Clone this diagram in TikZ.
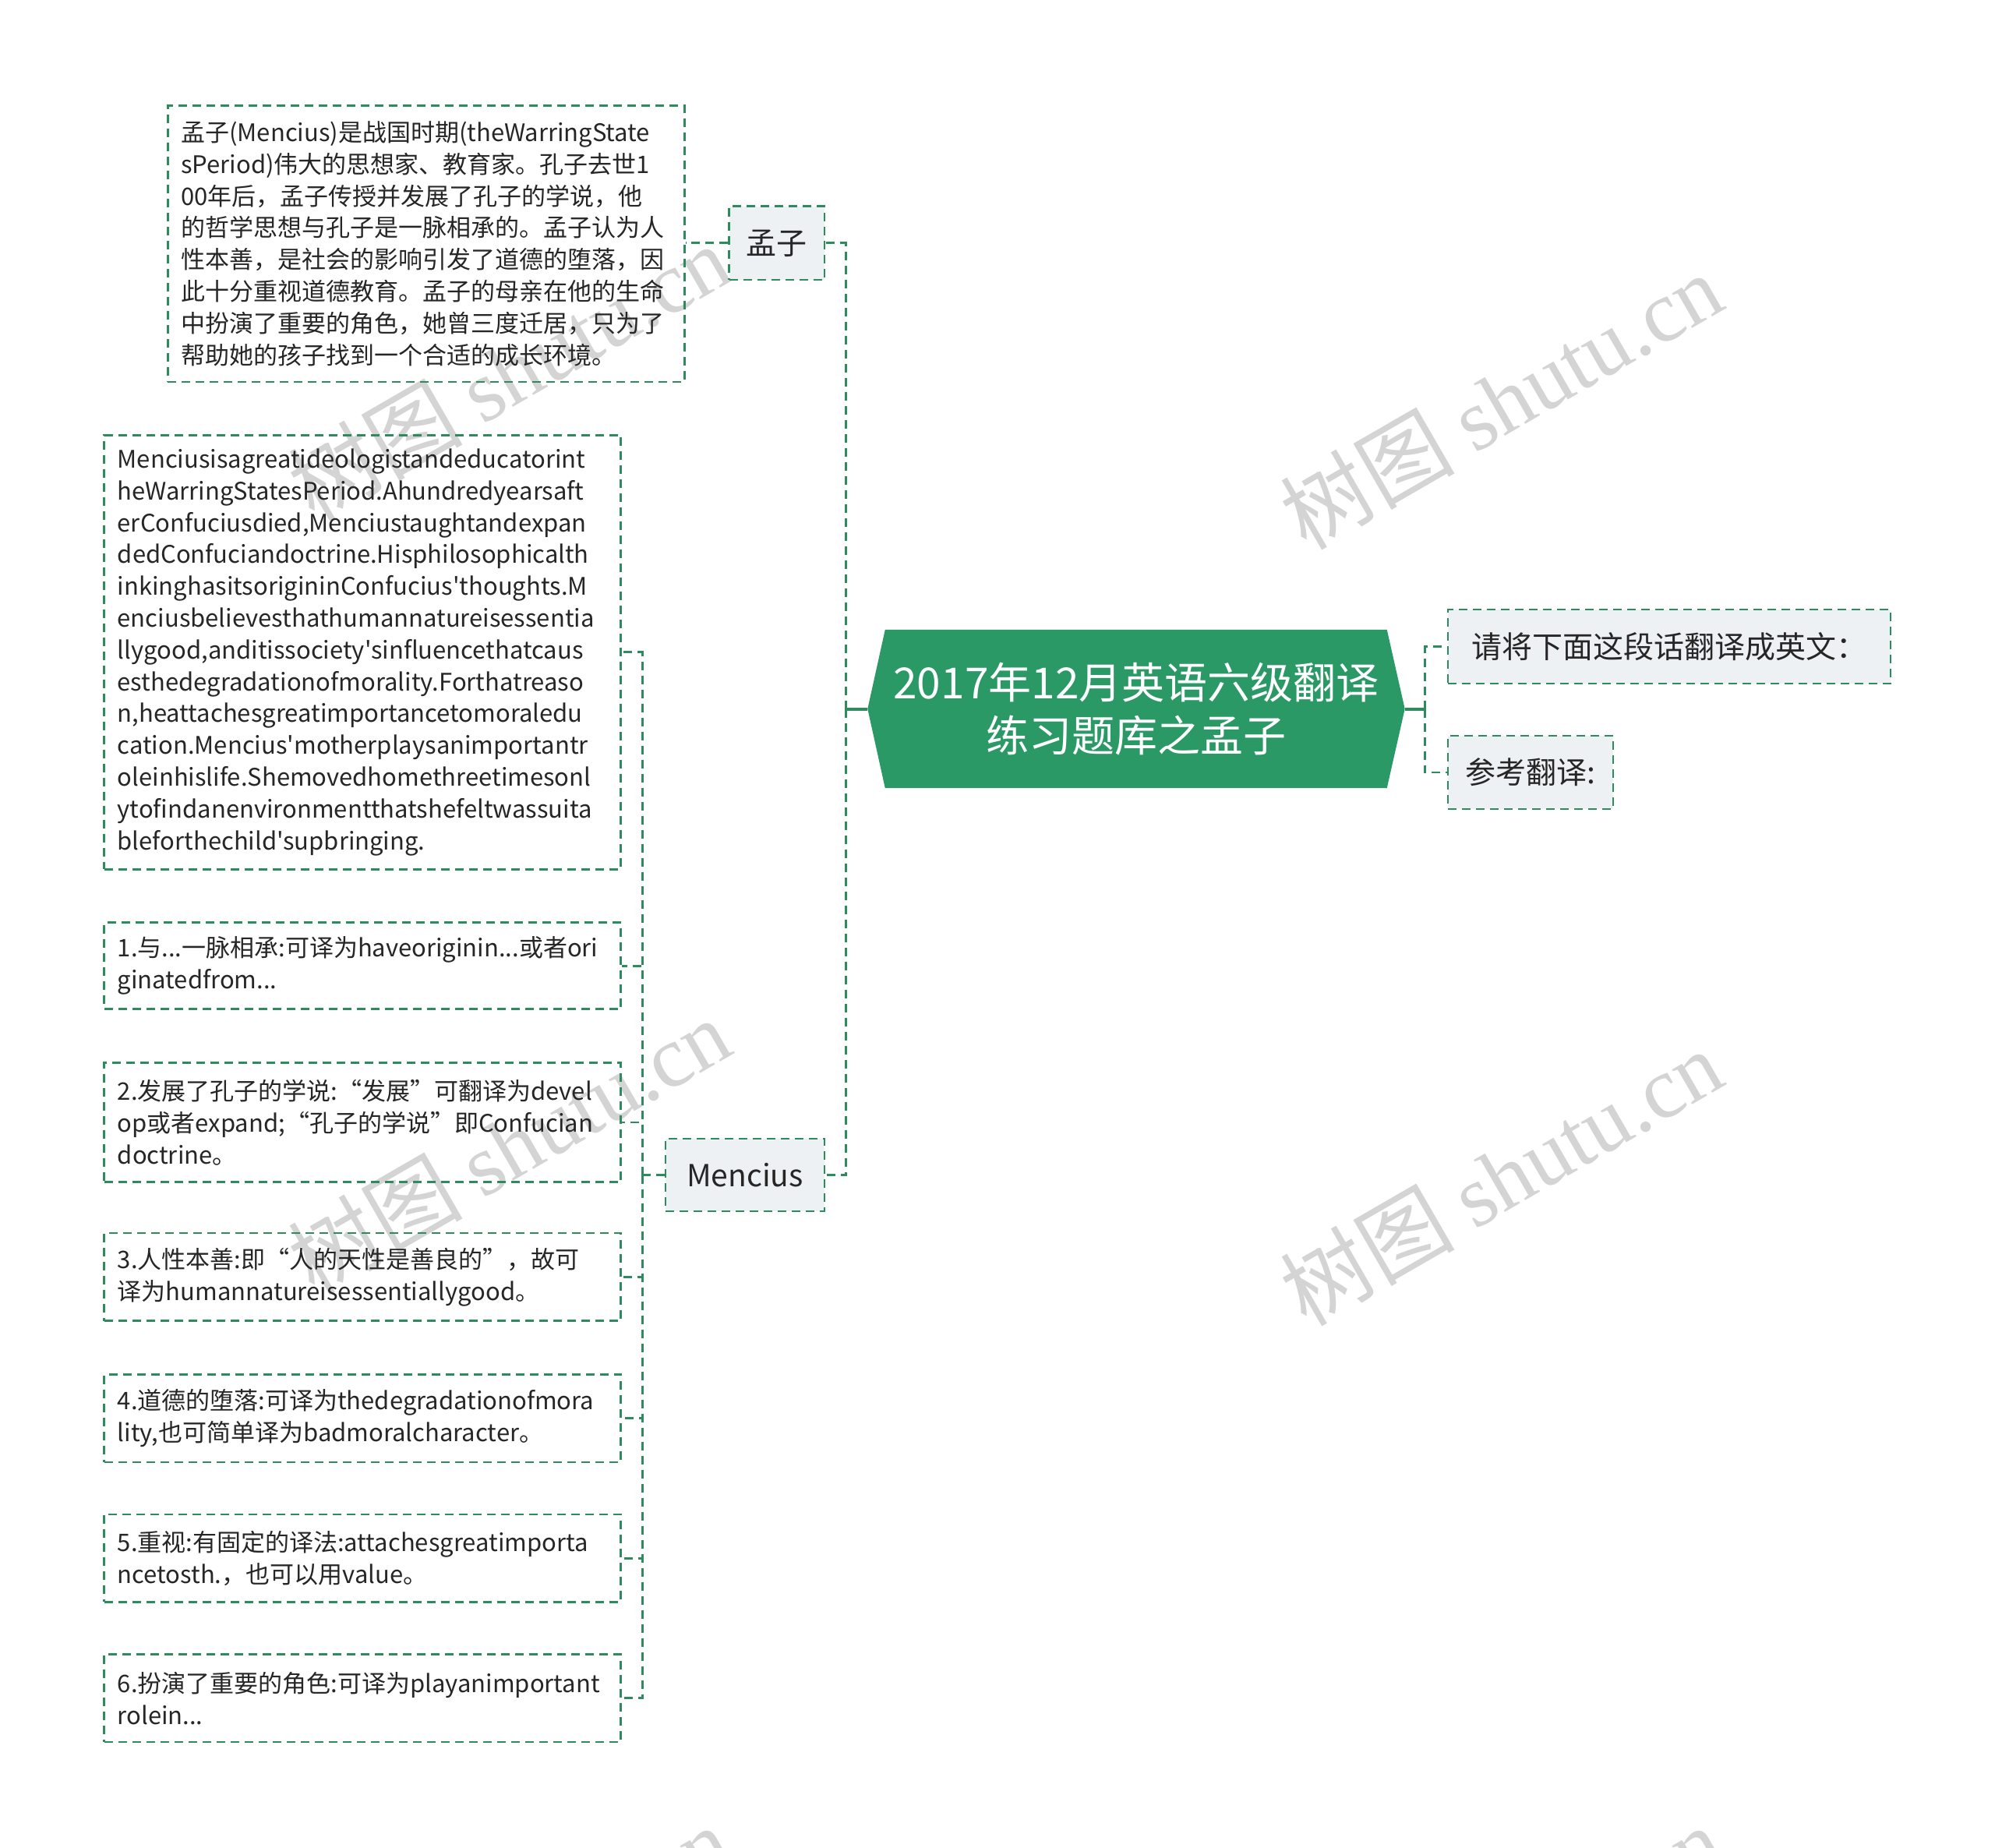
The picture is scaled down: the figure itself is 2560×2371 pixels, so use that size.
\documentclass[tikz,border=0pt]{standalone}
\usepackage{fontspec}
\setmainfont{Noto Sans CJK SC}[Ligatures=TeXOff]
\newfontfamily\wmlatin{Liberation Serif}
\definecolor{lnk}{HTML}{2E8B5E}
\definecolor{ctr}{HTML}{2A9966}
\definecolor{pale}{HTML}{EEF1F4}
\definecolor{wmgray}{HTML}{D4D4D4}
\tikzset{
  dsh/.style={dash pattern=on 11pt off 7pt},
  conn/.style={draw=lnk, line width=2.8pt, dsh},
  stub/.style={draw=lnk, line width=4pt},
  leaf/.style={draw=lnk, line width=2.8pt, dsh, minimum width=663pt,
    text width=629pt, inner xsep=17pt, inner ysep=0pt, align=left,
    font=\fontsize{31}{40.8}\selectfont, text=black!85},
  tagbox/.style={draw=lnk, line width=2.8pt, dsh, fill=pale, inner sep=0pt,
    font=\fontsize{39}{46}\selectfont, text=black!85},
  roottext/.style={text=white, align=center, inner sep=0pt,
    font=\fontsize{55}{68.6}\selectfont},
  wm/.style={text=wmgray, inner sep=0pt, font=\fontsize{112}{120}\selectfont}
}
\begin{document}
\begin{tikzpicture}[x=1pt,y=-1pt]
\useasboundingbox (0,0) rectangle (2560,2371);
\fill[white] (0,0) rectangle (2560,2371);
% watermarks
\node[wm, rotate=30] (wm1) at (1926,514) {树图 {\wmlatin shutu.cn}};
\node[wm, rotate=30] (wm2) at (1926,1510) {树图 {\wmlatin shutu.cn}};
\node[wm, rotate=30] (wm3) at (653,477) {树图 {\wmlatin shutu.cn}};
\node[wm, rotate=30] (wm4) at (653,1470) {树图 {\wmlatin shutu.cn}};
\node[wm, rotate=30] (wm5) at (653,2506) {树图 {\wmlatin shutu.cn}};
\node[wm, rotate=30] (wm6) at (1926,2506) {树图 {\wmlatin shutu.cn}};

% root
\node[minimum width=689pt, minimum height=203pt, inner sep=0pt] (root) at (1458,909.5) {};
\fill[ctr] (root.west) -- ([xshift=22.5pt]root.north west) -- ([xshift=-23pt]root.north east)
  -- (root.east) -- ([xshift=-23pt]root.south east) -- ([xshift=22.5pt]root.south west) -- cycle;
\node[roottext] (roottxt) at (root.center) {2017年12月英语六级翻译\\练习题库之孟子};

% right side
\node[tagbox, minimum width=568pt, minimum height=95pt] (q) at (2142,829.5) {请将下面这段话翻译成英文：};
\node[tagbox, minimum width=212pt, minimum height=94pt] (ref) at (1964,991) {参考翻译:};

% left main children
\node[tagbox, minimum width=122.5pt, minimum height=94.5pt] (mz) at (996.8,311.8) {孟子};
\node[tagbox, minimum width=204pt, minimum height=93pt] (mc) at (956,1507.5) {Mencius};

% box A
\node[leaf, minimum height=354.5pt] (boxA) at (546.8,312.8) {孟子(Mencius)是战国时期(theWarringState\\
sPeriod)伟大的思想家、教育家。孔子去世1\\
00年后，孟子传授并发展了孔子的学说，他\\
的哲学思想与孔子是一脉相承的。孟子认为人\\
性本善，是社会的影响引发了道德的堕落，因\\
此十分重视道德教育。孟子的母亲在他的生命\\
中扮演了重要的角色，她曾三度迁居，只为了\\
帮助她的孩子找到一个合适的成长环境。};

% Mencius children
\node[leaf, minimum height=556.7pt] (en) at (465.3,836.8) {Menciusisagreatideologistandeducatorint\\
heWarringStatesPeriod.Ahundredyearsaft\\
erConfuciusdied,Menciustaughtandexpan\\
dedConfuciandoctrine.Hisphilosophicalth\\
inkinghasitsorigininConfucius'thoughts.M\\
enciusbelievesthathumannatureisessentia\\
llygood,anditissociety'sinfluencethatcaus\\
esthedegradationofmorality.Forthatreaso\\
n,heattachesgreatimportancetomoraledu\\
cation.Mencius'motherplaysanimportantr\\
oleinhislife.Shemovedhomethreetimesonl\\
ytofindanenvironmentthatshefeltwassuita\\
bleforthechild'supbringing.};
\node[leaf, minimum height=111pt] (i1) at (465.3,1239.2) {1.与...一脉相承:可译为haveoriginin...或者ori\\ginatedfrom...};
\node[leaf, minimum height=153.5pt] (i2) at (465.3,1440) {2.发展了孔子的学说:“发展”可翻译为devel\\op或者expand;“孔子的学说”即Confucian\\doctrine。};
\node[leaf, minimum height=112.7pt] (i3) at (465.3,1638.4) {3.人性本善:即“人的天性是善良的”，故可\\译为humannatureisessentiallygood。};
\node[leaf, minimum height=112.7pt] (i4) at (465.3,1819.7) {4.道德的堕落:可译为thedegradationofmora\\lity,也可简单译为badmoralcharacter。};
\node[leaf, minimum height=112.5pt] (i5) at (465.3,1999.2) {5.重视:有固定的译法:attachesgreatimporta\\ncetosth.，也可以用value。};
\node[leaf, minimum height=112.5pt] (i6) at (465.3,2178.8) {6.扮演了重要的角色:可译为playanimportant\\rolein...};

% connectors
\coordinate (sL) at (1085.7,909.5);
\coordinate (sR) at (1828.6,909.5);
\coordinate (sM) at (824.5,1507.5);
\draw[stub] (root.west) -- (sL);
\draw[stub] (root.east) -- (sR);
\draw[conn] (sL) |- (mz.east);
\draw[conn] (sL) |- (mc.east);
\draw[conn] (sR) |- (q.west);
\draw[conn] (sR) |- (ref.west);
\draw[conn] (mz.west) -- (mz.west -| boxA.east);
\draw[conn] (mc.west) -- (sM);
\draw[conn] (sM) |- (en.east);
\draw[conn] (sM) |- (i1.east);
\draw[conn] (sM) |- (i2.east);
\draw[conn] (sM) |- (i3.east);
\draw[conn] (sM) |- (i4.east);
\draw[conn] (sM) |- (i5.east);
\draw[conn] (sM) |- (i6.east);
\end{tikzpicture}
\end{document}
